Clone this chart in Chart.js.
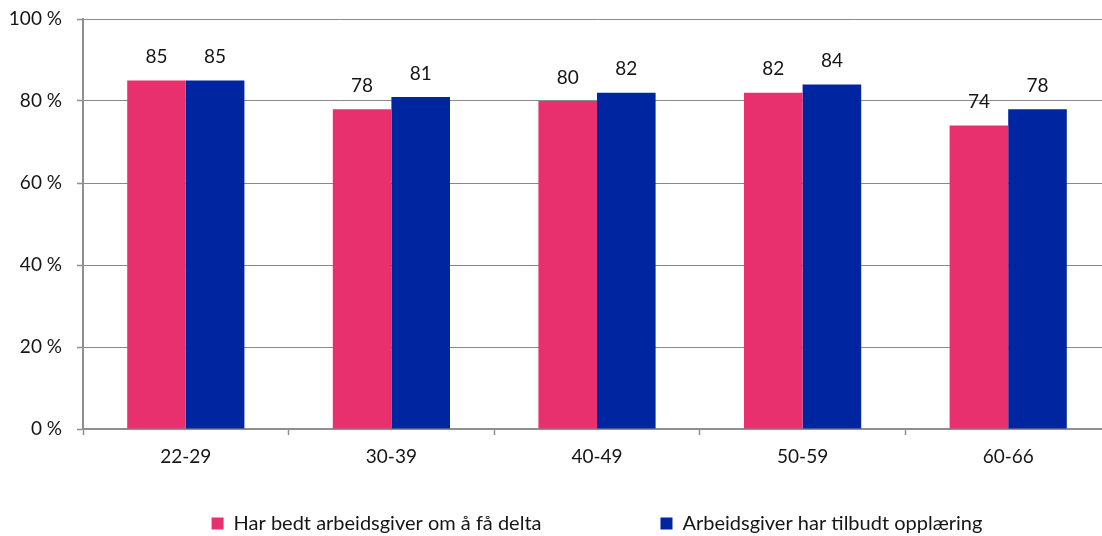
<!DOCTYPE html>
<html>
<head>
<meta charset="utf-8">
<script src="https://cdn.jsdelivr.net/npm/chart.js@4"></script>
<style>
  html, body { margin: 0; padding: 0; background: #fff; overflow: hidden; }
  #wrap { width: 1112px; height: 536px; }
</style>
</head>
<body>
<div id="wrap"><canvas id="c" width="1112" height="536"></canvas></div>
<script>
// Age groups on the x axis
const ageGroups = ['22-29', '30-39', '40-49', '50-59', '60-66'];
// Share (%) per age group
const askedEmployer = [85, 78, 80, 82, 74];
const employerOffered = [85, 81, 82, 84, 78];
// Series names
const seriesNames = ['Har bedt arbeidsgiver om å få delta', 'Arbeidsgiver har tilbudt opplæring'];
// Y axis tick values
const yTicks = [0, 20, 40, 60, 80, 100];

const FONT = 'Lato, "Noto Sans", sans-serif';
const AXIS_GREY = '#8f8f8f';
const TEXT = '#161616';

// Writes each bar's value above it
const valueLabels = {
  id: 'valueLabels',
  afterDatasetsDraw(chart) {
    const ctx = chart.ctx;
    ctx.save();
    ctx.font = '19px ' + FONT;
    ctx.fillStyle = TEXT;
    ctx.textAlign = 'center';
    ctx.textBaseline = 'middle';
    chart.data.datasets.forEach((ds, di) => {
      const meta = chart.getDatasetMeta(di);
      meta.data.forEach((bar, i) => {
        ctx.fillText(String(ds.data[i]), bar.x, bar.y - 23.5);
      });
    });
    ctx.restore();
  }
};

// Places the legend row under the plot, centred on the plot area
const legendPlacement = {
  id: 'legendPlacement',
  afterLayout(chart) {
    const lg = chart.legend;
    if (!lg) return;
    const pad = lg.options.labels.padding;
    const area = chart.chartArea;
    const mid = (area.left + area.right) / 2;
    const half = (lg.right - lg.left) / 2;
    lg.left = mid - half;
    lg.right = mid + half;
    lg.top = 513.5 - pad;
  }
};

new Chart(document.getElementById('c'), {
  type: 'bar',
  data: {
    labels: ageGroups,
    datasets: [
      { label: seriesNames[0], data: askedEmployer, backgroundColor: '#E9306F', borderWidth: 0 },
      { label: seriesNames[1], data: employerOffered, backgroundColor: '#0025A0', borderWidth: 0 }
    ]
  },
  options: {
    responsive: false,
    animation: false,
    devicePixelRatio: 1,
    categoryPercentage: 0.57,
    barPercentage: 1.0,
    layout: { padding: { top: 19, right: 1, left: 0, bottom: 0 } },
    plugins: {
      legend: {
        position: 'bottom',
        maxHeight: 40,
        labels: {
          font: { family: FONT, size: 20 },
          color: TEXT,
          boxWidth: 12,
          boxHeight: 12,
          padding: 119
        }
      },
      tooltip: { enabled: false }
    },
    scales: {
      x: {
        offset: true,
        grid: {
          offset: true,
          drawOnChartArea: false,
          drawTicks: true,
          tickLength: 6,
          tickColor: AXIS_GREY,
          tickWidth: 1.5
        },
        border: { color: AXIS_GREY, width: 2 },
        ticks: { font: { family: FONT, size: 19 }, color: TEXT, padding: 10 },
        afterFit(scale) { scale.height = 67; }
      },
      y: {
        min: 0,
        max: 100,
        afterBuildTicks(scale) { scale.ticks = yTicks.map(v => ({ value: v })); },
        grid: {
          color: '#8a8a8a',
          lineWidth: 1,
          borderDash: [1, 1],
          drawTicks: true,
          tickLength: 6,
          tickColor: AXIS_GREY,
          tickWidth: 1.5,
          tickBorderDash: []
        },
        border: { color: AXIS_GREY, width: 2 },
        ticks: {
          font: { family: FONT, size: 19 },
          color: TEXT,
          padding: 15,
          callback: v => v + ' %'
        },
        afterFit(scale) {
          scale.width = 83;
          scale.paddingTop = 0;
          scale.paddingBottom = 0;
        }
      }
    }
  },
  plugins: [valueLabels, legendPlacement]
});
</script>
</body>
</html>
